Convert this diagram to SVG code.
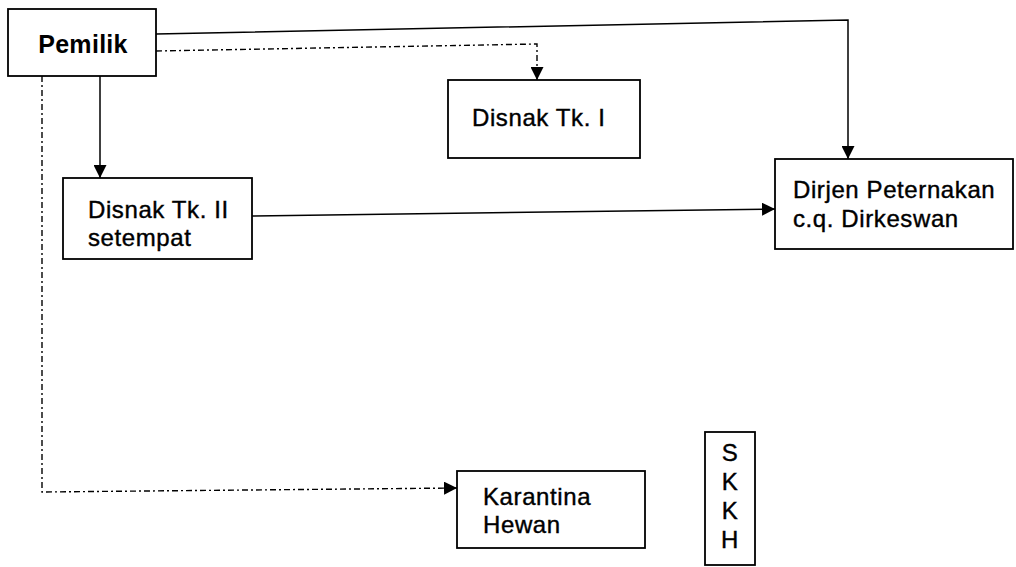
<svg xmlns="http://www.w3.org/2000/svg" width="1016" height="567" viewBox="0 0 1016 567">
<style>
.box{fill:#fff;stroke:#000;stroke-width:1.8}
.t{font-family:"Liberation Sans",Arial,sans-serif;font-size:24px;letter-spacing:0.6px;fill:#000;stroke:#000;stroke-width:0.4}
.b{font-weight:bold;font-size:25px;letter-spacing:0.3px;stroke-width:0}
.solid{fill:none;stroke:#000;stroke-width:1.5}
.dash{fill:none;stroke:#000;stroke-width:1.4;stroke-dasharray:6 3 2 3}
</style>
<defs>
<marker id="ah" viewBox="0 0 10 10" refX="10" refY="5" markerWidth="13" markerHeight="13" markerUnits="userSpaceOnUse" orient="auto">
<path d="M0,0 L10,5 L0,10 z" fill="#000"/>
</marker>
</defs>
<rect width="1016" height="567" fill="#fff"/>
<g id="connectors">
<polyline class="solid" points="156,34 848,20 848,159" marker-end="url(#ah)"/>
<polyline class="dash" points="156,51 537,44 537,80" marker-end="url(#ah)"/>
<polyline class="solid" points="100,76 100,178" marker-end="url(#ah)"/>
<polyline class="solid" points="252,216 775,209" marker-end="url(#ah)"/>
<polyline class="dash" points="42,76 42,492 457,488" marker-end="url(#ah)"/>
</g>
<g id="pemilik">
<rect class="box" x="8" y="9" width="148" height="67"/>
<text class="t b" x="83" y="53" text-anchor="middle">Pemilik</text>
</g>
<g id="disnak1">
<rect class="box" x="448" y="80" width="192" height="78"/>
<text class="t" x="472" y="126">Disnak Tk. I</text>
</g>
<g id="dirjen">
<rect class="box" x="775" y="159" width="238" height="90"/>
<text class="t" x="793" y="198">Dirjen Peternakan</text>
<text class="t" x="793" y="227">c.q. Dirkeswan</text>
</g>
<g id="disnak2">
<rect class="box" x="63" y="178" width="189" height="81"/>
<text class="t" x="88" y="218">Disnak Tk. II</text>
<text class="t" x="88" y="246">setempat</text>
</g>
<g id="karantina">
<rect class="box" x="457" y="471" width="188" height="77"/>
<text class="t" x="483" y="505">Karantina</text>
<text class="t" x="483" y="533">Hewan</text>
</g>
<g id="skkh">
<rect class="box" x="705" y="432" width="50" height="133"/>
<text class="t" x="730" y="461" text-anchor="middle">S</text>
<text class="t" x="730" y="490" text-anchor="middle">K</text>
<text class="t" x="730" y="519" text-anchor="middle">K</text>
<text class="t" x="730" y="548" text-anchor="middle">H</text>
</g>
</svg>
